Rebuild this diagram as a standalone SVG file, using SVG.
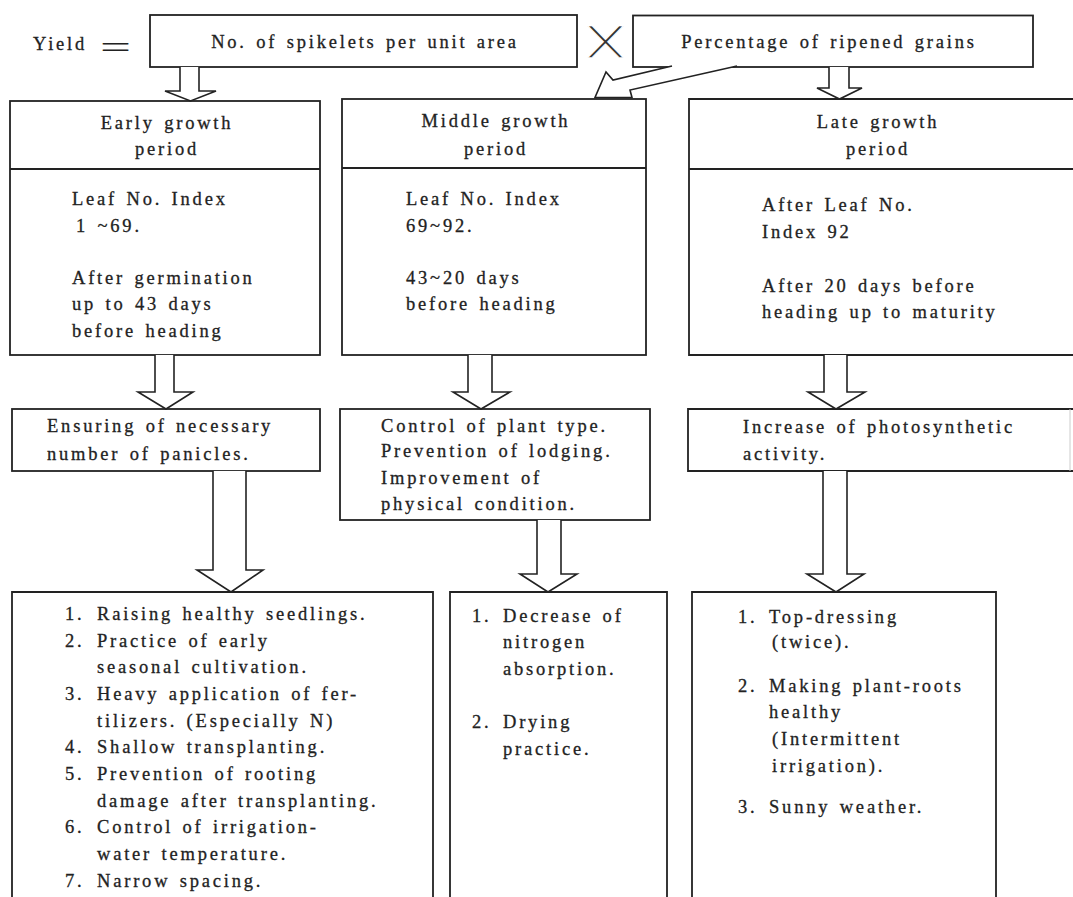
<svg xmlns="http://www.w3.org/2000/svg" width="1073" height="897" viewBox="0 0 1073 897">
<style>
  .box { fill: #fff; stroke: #222; stroke-width: 1.8; }
  .open { fill: none; stroke: #222; stroke-width: 1.8; }
  .arrow { fill: #fff; stroke: #222; stroke-width: 1.6; stroke-linejoin: miter; }
  text { font-family: "Liberation Serif", "Times New Roman", serif; font-size: 18.5px; fill: #222; stroke: #222; stroke-width: 0.3px; letter-spacing: 2.8px; word-spacing: 2px; }
  .c { text-anchor: middle; }
</style>
<rect width="1073" height="897" fill="#fff"/>

<g id="formula">
  <text x="33" y="50">Yield</text>
  <text x="100" y="58" style="font-size:32px;letter-spacing:0;stroke-width:0" textLength="31" lengthAdjust="spacingAndGlyphs">=</text>
  <text x="590" y="51" style="font-family:'DejaVu Sans Mono',monospace;font-size:27px;letter-spacing:0;fill:#333;stroke:#fff;stroke-width:0.7px" textLength="31" lengthAdjust="spacingAndGlyphs">╳</text>
</g>

<g id="spikelets">
  <rect class="box" x="150" y="15" width="427" height="52"/>
  <text class="c" x="365" y="48">No. of spikelets per unit area</text>
</g>

<g id="ripened">
  <rect class="box" x="633" y="15.5" width="400" height="51.5"/>
  <text class="c" x="829" y="48">Percentage of ripened grains</text>
</g>

<g id="early">
  <rect class="box" x="10" y="101" width="310" height="254"/>
  <line class="open" x1="10" y1="169" x2="320" y2="169"/>
  <text class="c" x="167" y="129">Early growth</text>
  <text class="c" x="167" y="155">period</text>
  <text x="72" y="205">Leaf No. Index</text>
  <text x="76" y="232">1 ~69.</text>
  <text x="72" y="284">After germination</text>
  <text x="72" y="310">up to 43 days</text>
  <text x="72" y="337">before heading</text>
</g>

<g id="middle">
  <rect class="box" x="342" y="99" width="304" height="256"/>
  <line class="open" x1="342" y1="168" x2="646" y2="168"/>
  <text class="c" x="496" y="127">Middle growth</text>
  <text class="c" x="496" y="155">period</text>
  <text x="406" y="205">Leaf No. Index</text>
  <text x="406" y="232">69~92.</text>
  <text x="406" y="284">43~20 days</text>
  <text x="406" y="310">before heading</text>
</g>

<g id="late">
  <path class="open" d="M1073,99 L689,99 L689,355 L1073,355 M689,169 L1073,169"/>
  <text class="c" x="878" y="128">Late growth</text>
  <text class="c" x="878" y="155">period</text>
  <text x="762" y="211">After Leaf No.</text>
  <text x="762" y="238">Index 92</text>
  <text x="762" y="292">After 20 days before</text>
  <text x="762" y="318">heading up to maturity</text>
</g>

<g id="panicles">
  <rect class="box" x="12" y="409" width="308" height="62"/>
  <text x="47" y="432">Ensuring of necessary</text>
  <text x="47" y="460">number of panicles.</text>
</g>

<g id="planttype">
  <rect class="box" x="340" y="409" width="310" height="111"/>
  <text x="381" y="432">Control of plant type.</text>
  <text x="381" y="457">Prevention of lodging.</text>
  <text x="381" y="484">Improvement of</text>
  <text x="381" y="510">physical condition.</text>
</g>

<g id="photosynthetic">
  <path class="open" d="M1073,409 L688,409 L688,471 L1073,471"/>
  <line x1="1070" y1="409" x2="1070" y2="471" stroke="#ccc" stroke-width="1"/>
  <text x="743" y="433">Increase of photosynthetic</text>
  <text x="743" y="460">activity.</text>
</g>

<g id="early-measures">
  <path class="open" d="M12,900 L12,592 L433,592 L433,900"/>
  <text x="65" y="620">1.</text><text x="97" y="620">Raising healthy seedlings.</text>
  <text x="65" y="647">2.</text><text x="97" y="647">Practice of early</text>
  <text x="97" y="673">seasonal cultivation.</text>
  <text x="65" y="700">3.</text><text x="97" y="700">Heavy application of fer-</text>
  <text x="97" y="727">tilizers. (Especially N)</text>
  <text x="65" y="753">4.</text><text x="97" y="753">Shallow transplanting.</text>
  <text x="65" y="780">5.</text><text x="97" y="780">Prevention of rooting</text>
  <text x="97" y="807">damage after transplanting.</text>
  <text x="65" y="833">6.</text><text x="97" y="833">Control of irrigation-</text>
  <text x="97" y="860">water temperature.</text>
  <text x="65" y="887">7.</text><text x="97" y="887">Narrow spacing.</text>
</g>

<g id="middle-measures">
  <path class="open" d="M450,900 L450,592 L667,592 L667,900"/>
  <text x="472" y="622">1.</text><text x="503" y="622">Decrease of</text>
  <text x="503" y="648">nitrogen</text>
  <text x="503" y="675">absorption.</text>
  <text x="472" y="728">2.</text><text x="503" y="728">Drying</text>
  <text x="503" y="755">practice.</text>
</g>

<g id="late-measures">
  <path class="open" d="M692,900 L692,592 L996,592 L996,900"/>
  <text x="738" y="623">1.</text><text x="769" y="623">Top-dressing</text>
  <text x="772" y="648">(twice).</text>
  <text x="738" y="692">2.</text><text x="769" y="692">Making plant-roots</text>
  <text x="769" y="718">healthy</text>
  <text x="772" y="745">(Intermittent</text>
  <text x="772" y="772">irrigation).</text>
  <text x="738" y="813">3.</text><text x="769" y="813">Sunny weather.</text>
</g>

<g id="connectors">
  <path class="arrow" d="M180,67 L180,91 L165,91 L190.5,101 L216,91 L199,91 L199,67"/>
  <path class="arrow" d="M829,67 L829,88 L817,88 L839.5,99 L862,88 L849,88 L849,67"/>
  <path class="arrow" d="M672,66 L613,80 L606,72 L595,97.5 L632,97.5 L630,90 L737,66"/>
  <path class="arrow" d="M155,355 L155,392 L138,392 L166,409 L193,392 L174,392 L174,355"/>
  <path class="arrow" d="M468,355 L468,392 L453,392 L481,409 L510,392 L492,392 L492,355"/>
  <path class="arrow" d="M824,355 L824,392 L808,392 L836,409 L865,392 L847,392 L847,355"/>
  <path class="arrow" d="M213,471 L213,570 L197,570 L231,592 L263,570 L246,570 L246,471"/>
  <path class="arrow" d="M537,520 L537,574 L520,574 L548,592 L577,574 L561,574 L561,520"/>
  <path class="arrow" d="M823,471 L823,574 L807,574 L836,592 L864,574 L847,574 L847,471"/>
</g>
</svg>
